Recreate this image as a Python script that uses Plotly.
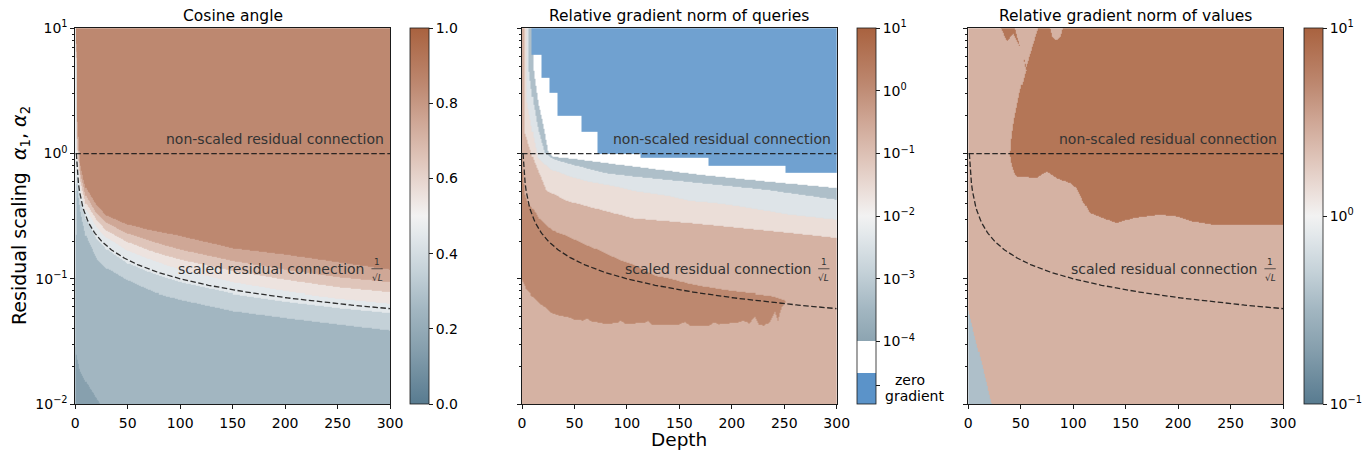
import numpy as np
import plotly.graph_objects as go

FONT = "DejaVu Sans"
FS = 14
TITLE_FS = 15.5

# ---------------- shared axes / text ----------------
DEPTH_TICKS = [0, 50, 100, 150, 200, 250, 300]
ALPHA_TICKS = [0.01, 0.1, 1, 10]
ALPHA_TICK_TEXT = ["10<sup>−2</sup>", "10<sup>−1</sup>", "10<sup>0</sup>", "10<sup>1</sup>"]
ALPHA_MINOR = [k * 10.0 ** e for e in (-2, -1, 0) for k in range(2, 10)]
PANEL_TITLES = ["Cosine angle", "Relative gradient norm of queries", "Relative gradient norm of values"]

# colormap (position -> colour)
CMAP_POS = [0.0, 0.15, 0.25, 0.35, 0.45, 0.5, 0.55, 0.65, 0.75, 0.85, 1.0]
CMAP_HEX = ["#587b90", "#87a0ae", "#a2b6c1", "#c4d1d8", "#e3e8eb", "#f2f2f2",
            "#ede3df", "#dfc5ba", "#cfa796", "#bd8870", "#a9623f"]
ZERO_BLUE = "#5b93c9"

# ---------------- panel 1: cosine angle ----------------
# contour edges given as log10(alpha) at the listed depths
COS_DEPTH = [0, 2, 5, 10, 20, 30, 50, 75, 100, 150, 200, 250, 300]
COS_EDGE_08 = [1.5, 0.25, -0.10, -0.28, -0.41, -0.50, -0.57, -0.62, -0.66, -0.76, -0.81, -0.87, -0.93]
COS_EDGE_07 = [1.5, 0.12, -0.17, -0.34, -0.48, -0.56, -0.64, -0.71, -0.77, -0.86, -0.93, -0.99, -1.03]
COS_EDGE_06 = [1.5, 0.03, -0.23, -0.40, -0.53, -0.62, -0.71, -0.79, -0.85, -0.94, -1.01, -1.07, -1.11]
COS_EDGE_05 = [1.5, -0.06, -0.29, -0.45, -0.59, -0.675, -0.78, -0.86, -0.93, -1.03, -1.10, -1.155, -1.195]
COS_EDGE_04 = [-0.3, -0.19, -0.38, -0.525, -0.68, -0.77, -0.88, -0.965, -1.03, -1.12, -1.18, -1.23, -1.27]
COS_EDGE_03 = [-1.0, -0.30, -0.47, -0.66, -0.84, -0.92, -1.015, -1.11, -1.165, -1.255, -1.31, -1.36, -1.41]
COS_EDGE_02_DEPTH = [0, 1.3, 4.5, 10.9, 17.2, 23.5, 30, 300]
COS_EDGE_02 = [-1.54, -1.62, -1.73, -1.834, -1.914, -1.994, -2.1, -2.5]
COS_BAND_VALUES = [0.15, 0.25, 0.35, 0.45, 0.55, 0.65, 0.75, 0.85]

# ---------------- panel 2: queries (z = log10 of relative norm) ----------------
Q_BAND_VALUES = {"zero": -4.75, "tiny": -4.25, "e-4": -3.5, "e-3": -2.5, "e-2": -1.5, "e-1": -0.5, "e0": 0.5}
Q_ZERO_LOWER_LOG = [0.787, 0.601, 0.481, 0.302, 0.174, 0.0, -0.04, -0.10, -0.158]
Q_ZERO_FROM_DEPTH = [9.2, 18.8, 26.7, 33.1, 56.2, 71.1, 112.5, 178, 252]
Q_EDGE_M4_DEPTH = [0, 9.0, 10.8, 15.5, 21.3, 25.1, 29.6, 42.6, 106, 170, 233, 300]
Q_EDGE_M4 = [1.5, 1.1, 0.668, 0.401, 0.188, 0.014, -0.028, -0.038, -0.105, -0.172, -0.225, -0.278]
Q_EDGE_M3_DEPTH = [0, 6.0, 6.7, 10.8, 15.5, 21.9, 31.5, 42.6, 79.1, 106, 170, 233, 300]
Q_EDGE_M3 = [1.5, 1.1, 0.668, 0.401, 0.188, 0.002, -0.052, -0.078, -0.158, -0.185, -0.238, -0.292, -0.371]
Q_EDGE_M2_DEPTH = [0, 4.0, 4.5, 10, 15, 28, 44, 60, 92, 106, 139, 160, 187, 208, 255, 300]
Q_EDGE_M2 = [1.5, 1.1, 0.43, 0.17, -0.04, -0.13, -0.18, -0.22, -0.27, -0.30, -0.34, -0.38, -0.40, -0.425, -0.49, -0.531]
Q_EDGE_M1_DEPTH = [0, 2.0, 2.9, 10.8, 23.5, 42.6, 74, 106, 160, 208, 255, 300]
Q_EDGE_M1 = [1.5, 1.1, 0.16, -0.05, -0.30, -0.38, -0.45, -0.52, -0.558, -0.597, -0.637, -0.677]
Q_BROWN_TOP_DEPTH = [0, 1, 3, 6, 11, 16, 24, 32, 43, 63, 75, 95, 106, 127, 140, 158, 170, 200, 233, 240, 246, 250, 252.5]
Q_BROWN_TOP = [-0.02, -0.15, -0.33, -0.40, -0.45, -0.52, -0.58, -0.63, -0.66, -0.74, -0.78, -0.86, -0.89,
               -0.98, -1.00, -1.04, -1.06, -1.10, -1.13, -1.14, -1.157, -1.165, -1.19]
Q_BROWN_BOTTOM_DEPTH = [0, 4.5, 17, 22, 27, 35, 43, 50, 58, 62, 66, 79, 90, 94, 98, 115, 120, 124, 150, 155,
                        160, 178, 183, 188, 200, 206, 212, 216, 222, 226, 231, 236, 241, 244, 247.6, 250.7, 252.5]
Q_BROWN_BOTTOM = [-1.01, -1.09, -1.197, -1.224, -1.264, -1.29, -1.30, -1.32, -1.33, -1.315, -1.335, -1.356,
                  -1.35, -1.33, -1.355, -1.35, -1.335, -1.36, -1.36, -1.34, -1.37, -1.37, -1.345, -1.36, -1.35,
                  -1.345, -1.33, -1.355, -1.30, -1.36, -1.37, -1.343, -1.264, -1.33, -1.224, -1.19, -1.19]
Q_BROWN_END = 252.5

# ---------------- panel 3: values (z = log10 of relative norm) ----------------
V_BAND_VALUES = {"low": -0.5, "mid": 0.5, "high": 1.5}
V_LEFT_LOG = [-0.19, -0.172, -0.092, -0.012, 0.148, 0.308, 0.494, 0.681, 1.0]
V_LEFT_DEPTH = [47.6, 44.5, 41.3, 39.7, 41.3, 44.5, 49.2, 55.6, 55.6]
V_ARM_DEPTH = [30.9, 36.6, 42.9, 50.9, 54.0, 58.0]
V_ARM_BOTTOM = [1.0, 0.893, 0.96, 0.826, 0.69, 0.60]
V_WEDGE_DEPTH = [44.5, 55.0, 66.7]
V_WEDGE = [1.0, 0.69, 1.0]
V_LOBE_DEPTH = [77.8, 80.0, 84.0, 88.0, 90.5]
V_LOBE = [1.0, 0.93, 0.905, 0.93, 1.0]
V_LOWER_DEPTH = [47.6, 65.1, 74.7, 84.2, 96.9, 103.2, 109.5, 115.9, 128.6, 141.3, 157.1, 182.6, 198.5,
                 214.3, 233.3, 261.9, 300]
V_LOWER = [-0.185, -0.198, -0.145, -0.198, -0.238, -0.278, -0.385, -0.478, -0.518, -0.558, -0.518,
           -0.491, -0.505, -0.545, -0.571, -0.571, -0.573]
V_BLUE_DEPTH = [0, 8, 14.3, 22.3, 40]
V_BLUE = [-1.25, -1.516, -1.729, -2.0, -2.6]

# reference lines
UNSCALED_ALPHA = 1.0
SCALED_DEPTH = np.arange(1, 301)
SCALED_ALPHA = 1.0 / np.sqrt(SCALED_DEPTH)

# ---------------- grids built from the edges ----------------
DEPTH_GRID = np.arange(0, 301, 1.0)
LOG_GRID = np.linspace(-2, 1, 376)
ALPHA_GRID = 10.0 ** LOG_GRID
L = LOG_GRID[:, None]
DG = DEPTH_GRID[None, :]
SHAPE = (LOG_GRID.size, DEPTH_GRID.size)


def edge(dk, lk):
    return np.interp(DEPTH_GRID, dk, lk)[None, :]


# panel 1
z1 = np.full(SHAPE, COS_BAND_VALUES[0])
cos_edges = [edge(COS_EDGE_02_DEPTH, COS_EDGE_02), edge(COS_DEPTH, COS_EDGE_03), edge(COS_DEPTH, COS_EDGE_04),
             edge(COS_DEPTH, COS_EDGE_05), edge(COS_DEPTH, COS_EDGE_06), edge(COS_DEPTH, COS_EDGE_07),
             edge(COS_DEPTH, COS_EDGE_08)]
for val, e in zip(COS_BAND_VALUES[1:], cos_edges):
    z1 = np.where(L > e, val, z1)

# panel 2
z2 = np.full(SHAPE, Q_BAND_VALUES["e-1"])
brown = (L > edge(Q_BROWN_BOTTOM_DEPTH, Q_BROWN_BOTTOM)) & (L < edge(Q_BROWN_TOP_DEPTH, Q_BROWN_TOP)) & (DG <= Q_BROWN_END)
z2 = np.where(brown, Q_BAND_VALUES["e0"], z2)
z2 = np.where(L > edge(Q_EDGE_M1_DEPTH, Q_EDGE_M1), Q_BAND_VALUES["e-2"], z2)
z2 = np.where(L > edge(Q_EDGE_M2_DEPTH, Q_EDGE_M2), Q_BAND_VALUES["e-3"], z2)
z2 = np.where(L > edge(Q_EDGE_M3_DEPTH, Q_EDGE_M3), Q_BAND_VALUES["e-4"], z2)
z2 = np.where(L > edge(Q_EDGE_M4_DEPTH, Q_EDGE_M4), Q_BAND_VALUES["tiny"], z2)
zero = np.zeros(SHAPE, bool)
for lo, d0 in zip(Q_ZERO_LOWER_LOG, Q_ZERO_FROM_DEPTH):
    zero |= (L >= lo) & (DG >= d0)
z2 = np.where(zero, Q_BAND_VALUES["zero"], z2)

# panel 3
z3 = np.full(SHAPE, V_BAND_VALUES["mid"])
arm = (DG >= V_ARM_DEPTH[0]) & (L > edge(V_ARM_DEPTH, V_ARM_BOTTOM))
main = (DG > np.interp(LOG_GRID, V_LEFT_LOG, V_LEFT_DEPTH)[:, None]) & (L > edge(V_LOWER_DEPTH, V_LOWER))
cut = (L > edge(V_WEDGE_DEPTH, V_WEDGE)) | (L > edge(V_LOBE_DEPTH, V_LOBE))
z3 = np.where((arm | main) & ~cut, V_BAND_VALUES["high"], z3)
z3 = np.where(L < edge(V_BLUE_DEPTH, V_BLUE), V_BAND_VALUES["low"], z3)


# ---------------- colours ----------------
def hex_rgb(h):
    return [int(h[i:i + 2], 16) for i in (1, 3, 5)]


def cmap_at(f):
    rgb = [np.interp(f, CMAP_POS, [hex_rgb(c)[k] for c in CMAP_HEX]) for k in range(3)]
    return "rgb(%d,%d,%d)" % tuple(int(round(v)) for v in rgb)


COLORSCALE = [[p, c] for p, c in zip(CMAP_POS, CMAP_HEX)]
CS_QUERIES = ([[0.0, ZERO_BLUE], [1 / 12, ZERO_BLUE], [1 / 12, "#ffffff"], [1 / 6, "#ffffff"],
               [1 / 6, cmap_at(1 / 6)]] + [[p, c] for p, c in zip(CMAP_POS, CMAP_HEX) if p > 1 / 6])

# ---------------- layout geometry (pixels) ----------------
W, H = 1366, 452
PLOT_TOP, PLOT_BOTTOM = 28.3, 404.0
PANEL_LEFT = [75.3, 522.0, 968.3]
PANEL_W = 314.7
CBAR_LEFT = [410.0, 856.7, 1304.0]
AX_COLOR = "#1a1a1a"


def cbar(k, tickvals, ticktext):
    return dict(x=CBAR_LEFT[k] / W, xref="paper", xanchor="left", y=1 - (PLOT_TOP + PLOT_BOTTOM) / 2 / H,
                yanchor="middle", len=(PLOT_BOTTOM - PLOT_TOP) / H, lenmode="fraction", thickness=19.3,
                thicknessmode="pixels", xpad=0, ypad=0, outlinewidth=0.8, outlinecolor=AX_COLOR,
                tickmode="array", tickvals=tickvals, ticktext=ticktext, ticks="outside", ticklen=4,
                tickwidth=0.8, tickcolor=AX_COLOR, tickfont=dict(family=FONT, size=FS, color="black"))


fig = go.Figure()
specs = [
    (z1, COLORSCALE, 0, 1, 1.0, cbar(0, [0, 0.2, 0.4, 0.6, 0.8, 1.0], ["0.0", "0.2", "0.4", "0.6", "0.8", "1.0"])),
    (z2, CS_QUERIES, -5, 1, 0.87, cbar(1, [1, 0, -1, -2, -3, -4, -4.7],
                                       ["10<sup>1</sup>", "10<sup>0</sup>", "10<sup>−1</sup>", "10<sup>−2</sup>",
                                        "10<sup>−3</sup>", "10<sup>−4</sup>", ""])),
    (z3, COLORSCALE, -1, 1, 0.87, cbar(2, [-1, 0, 1], ["10<sup>−1</sup>", "10<sup>0</sup>", "10<sup>1</sup>"])),
]
for k, (z, cs, zmin, zmax, op, cb) in enumerate(specs):
    ax = "" if k == 0 else str(k + 1)
    fig.add_trace(go.Heatmap(x=DEPTH_GRID, y=ALPHA_GRID, z=np.round(z, 3), colorscale=cs, zmin=zmin, zmax=zmax,
                             zsmooth=False, opacity=op, colorbar=cb, hoverinfo="skip",
                             xaxis="x" + ax, yaxis="y" + ax))
    dash = dict(color="rgba(25,25,25,0.9)", width=1.3, dash="5.5px,2.5px")
    fig.add_trace(go.Scatter(x=[0, 300], y=[UNSCALED_ALPHA, UNSCALED_ALPHA], mode="lines", line=dash,
                             showlegend=False, hoverinfo="skip", xaxis="x" + ax, yaxis="y" + ax))
    fig.add_trace(go.Scatter(x=SCALED_DEPTH, y=SCALED_ALPHA, mode="lines", line=dash,
                             showlegend=False, hoverinfo="skip", xaxis="x" + ax, yaxis="y" + ax))

layout = dict(width=W, height=H, margin=dict(l=0, r=0, t=0, b=0, autoexpand=False), paper_bgcolor="white",
              plot_bgcolor="white", font=dict(family=FONT, size=FS, color="black"), showlegend=False)
ydom = [1 - PLOT_BOTTOM / H, 1 - PLOT_TOP / H]
annotations = []
shapes = []
for k in range(3):
    ax = "" if k == 0 else str(k + 1)
    layout["xaxis" + ax] = dict(domain=[PANEL_LEFT[k] / W, (PANEL_LEFT[k] + PANEL_W) / W], range=[0, 300],
                                tickmode="array", tickvals=DEPTH_TICKS, ticks="outside", ticklen=4,
                                tickwidth=0.8, tickcolor=AX_COLOR, showline=True, mirror=True,
                                linecolor=AX_COLOR, linewidth=0.8, showgrid=False, zeroline=False,
                                ticklabelstandoff=2,
                                tickfont=dict(family=FONT, size=FS), anchor="y" + ax)
    layout["yaxis" + ax] = dict(domain=ydom, type="log", range=[-2, 1], tickmode="array", tickvals=ALPHA_TICKS,
                                ticktext=ALPHA_TICK_TEXT, showticklabels=(k == 0), ticks="outside", ticklen=4,
                                tickwidth=0.8, tickcolor=AX_COLOR, showline=True, mirror=True,
                                linecolor=AX_COLOR, linewidth=0.8, showgrid=False, zeroline=False,
                                minor=dict(tickmode="array", tickvals=ALPHA_MINOR, ticks="outside", ticklen=2,
                                           tickwidth=0.6, tickcolor=AX_COLOR, showgrid=False),
                                tickfont=dict(family=FONT, size=FS), anchor="x" + ax)
    cx = (PANEL_LEFT[k] + PANEL_W / 2) / W
    annotations.append(dict(text=PANEL_TITLES[k], x=cx, y=1 - 16 / H, xref="paper", yref="paper",
                            xanchor="center", yanchor="middle", showarrow=False, font=dict(size=TITLE_FS)))
    xd, yd = "x" + ax + " domain", "y" + ax + " domain"
    txt = dict(color="#333333", size=FS)
    annotations.append(dict(text="non-scaled residual connection", x=0.988, y=0.7045, xref=xd, yref=yd,
                            xanchor="right", yanchor="middle", showarrow=False, font=txt))
    annotations.append(dict(text="scaled residual connection", x=0.925, y=0.358, xref=xd, yref=yd,
                            xanchor="right", yanchor="middle", showarrow=False, font=txt))
    annotations.append(dict(text="1", x=0.959, y=0.379, xref=xd, yref=yd, xanchor="center", yanchor="middle",
                            showarrow=False, font=dict(color="#333333", size=9)))
    annotations.append(dict(text="√<i>L</i>", x=0.959, y=0.336, xref=xd, yref=yd, xanchor="center",
                            yanchor="middle", showarrow=False, font=dict(color="#333333", size=9)))
    shapes.append(dict(type="line", xref=xd, yref=yd, x0=0.941, x1=0.977, y0=0.360, y1=0.360,
                       line=dict(color="#333333", width=0.8)))

annotations.append(dict(text="Residual scaling  <i>α</i><sub>1</sub>, <i>α</i><sub>2</sub>", x=20 / W,
                        y=1 - 216 / H, xref="paper", yref="paper", xanchor="center", yanchor="middle",
                        textangle=-90, showarrow=False, font=dict(size=19)))
annotations.append(dict(text="Depth", x=(PANEL_LEFT[1] + PANEL_W / 2) / W, y=1 - 439 / H, xref="paper",
                        yref="paper", xanchor="center", yanchor="middle", showarrow=False, font=dict(size=18.5)))
annotations.append(dict(text="zero", x=910 / W, y=1 - 380 / H, xref="paper", yref="paper", xanchor="center",
                        yanchor="middle", showarrow=False, font=dict(size=FS)))
annotations.append(dict(text="gradient", x=914.7 / W, y=1 - 395.5 / H, xref="paper", yref="paper",
                        xanchor="center", yanchor="middle", showarrow=False, font=dict(size=FS)))
layout["annotations"] = annotations
layout["shapes"] = shapes
fig.update_layout(**layout)
fig.write_html("out.html")
